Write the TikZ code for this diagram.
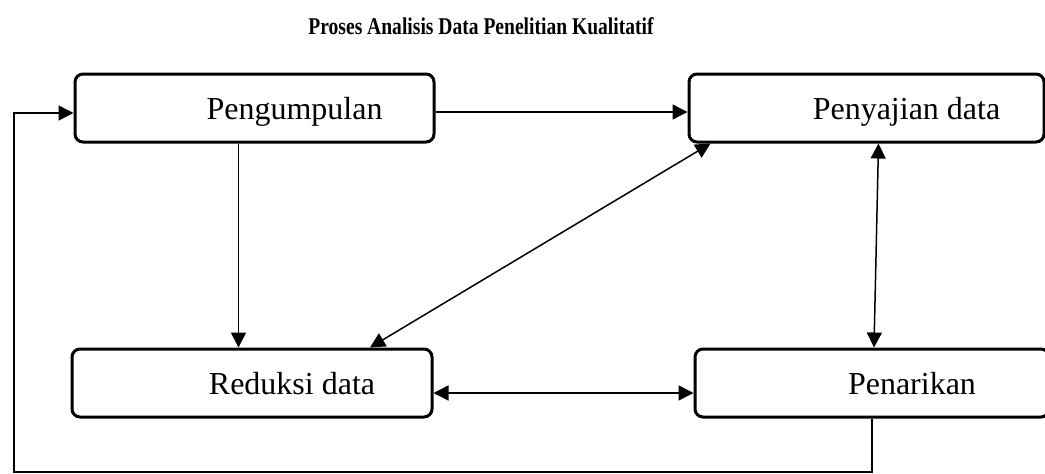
\documentclass[tikz,border=0pt]{standalone}
\usepackage{fontspec}
\setmainfont{Liberation Serif}
\usetikzlibrary{positioning, arrows.meta}

\begin{document}
\begin{tikzpicture}[x=1pt, y=-1pt,
  kotak/.style={rectangle, draw, line width=3pt, rounded corners=8pt, minimum height=68pt},
  tulisan/.style={anchor=base, xshift=40pt, yshift=-11pt, font=\fontsize{32}{38}\selectfont},
  panah/.style={line width=1.5pt, -{Triangle[length=15pt, width=15pt]}},
  duapanah/.style={line width=1.5pt, {Triangle[length=15pt, width=15pt]}-{Triangle[length=15pt, width=15pt]}}]
\clip (0,0) rectangle (1045,474);

\node[font=\bfseries\fontsize{24}{29}\selectfont, xscale=0.815, anchor=base] (judul) at (481,34) {Proses Analisis Data Penelitian Kualitatif};

\node[kotak, minimum width=359pt] (kumpul) at (254.5,108) {};
\node[kotak, minimum width=355pt, right=252pt of kumpul] (sajian) {};
\node[kotak, minimum width=360pt] (reduksi) at (252,383) {};
\node[kotak, minimum width=354pt, right=260pt of reduksi] (tarik) {};

\node[tulisan] (tkumpul) at (kumpul.center) {Pengumpulan};
\node[tulisan] (tsajian) at (sajian.center) {Penyajian data};
\node[tulisan] (treduksi) at (reduksi.center) {Reduksi data};
\node[tulisan] (ttarik) at (tarik.center) {Penarikan};

\draw[panah] ([yshift=-4pt]kumpul.east) -- ([yshift=-4pt]sajian.west);
\draw[panah] ([xshift=-16pt]kumpul.south) -- ([xshift=-16pt]kumpul.south |- reduksi.north);
\draw[duapanah] ([xshift=118pt]reduksi.north) -- ([xshift=23pt]sajian.south west);
\draw[duapanah] ([xshift=12pt]sajian.south) -- ([xshift=2pt]tarik.north);
\draw[duapanah] ([yshift=-10pt]reduksi.east) -- ([yshift=-10pt]reduksi.east -| tarik.west);
% umpan balik ke pengumpulan
\coordinate (pojok) at (14,472);
\draw[panah] (tarik.south) |- (pojok) |- ([yshift=-5pt]kumpul.west);

\end{tikzpicture}
\end{document}
